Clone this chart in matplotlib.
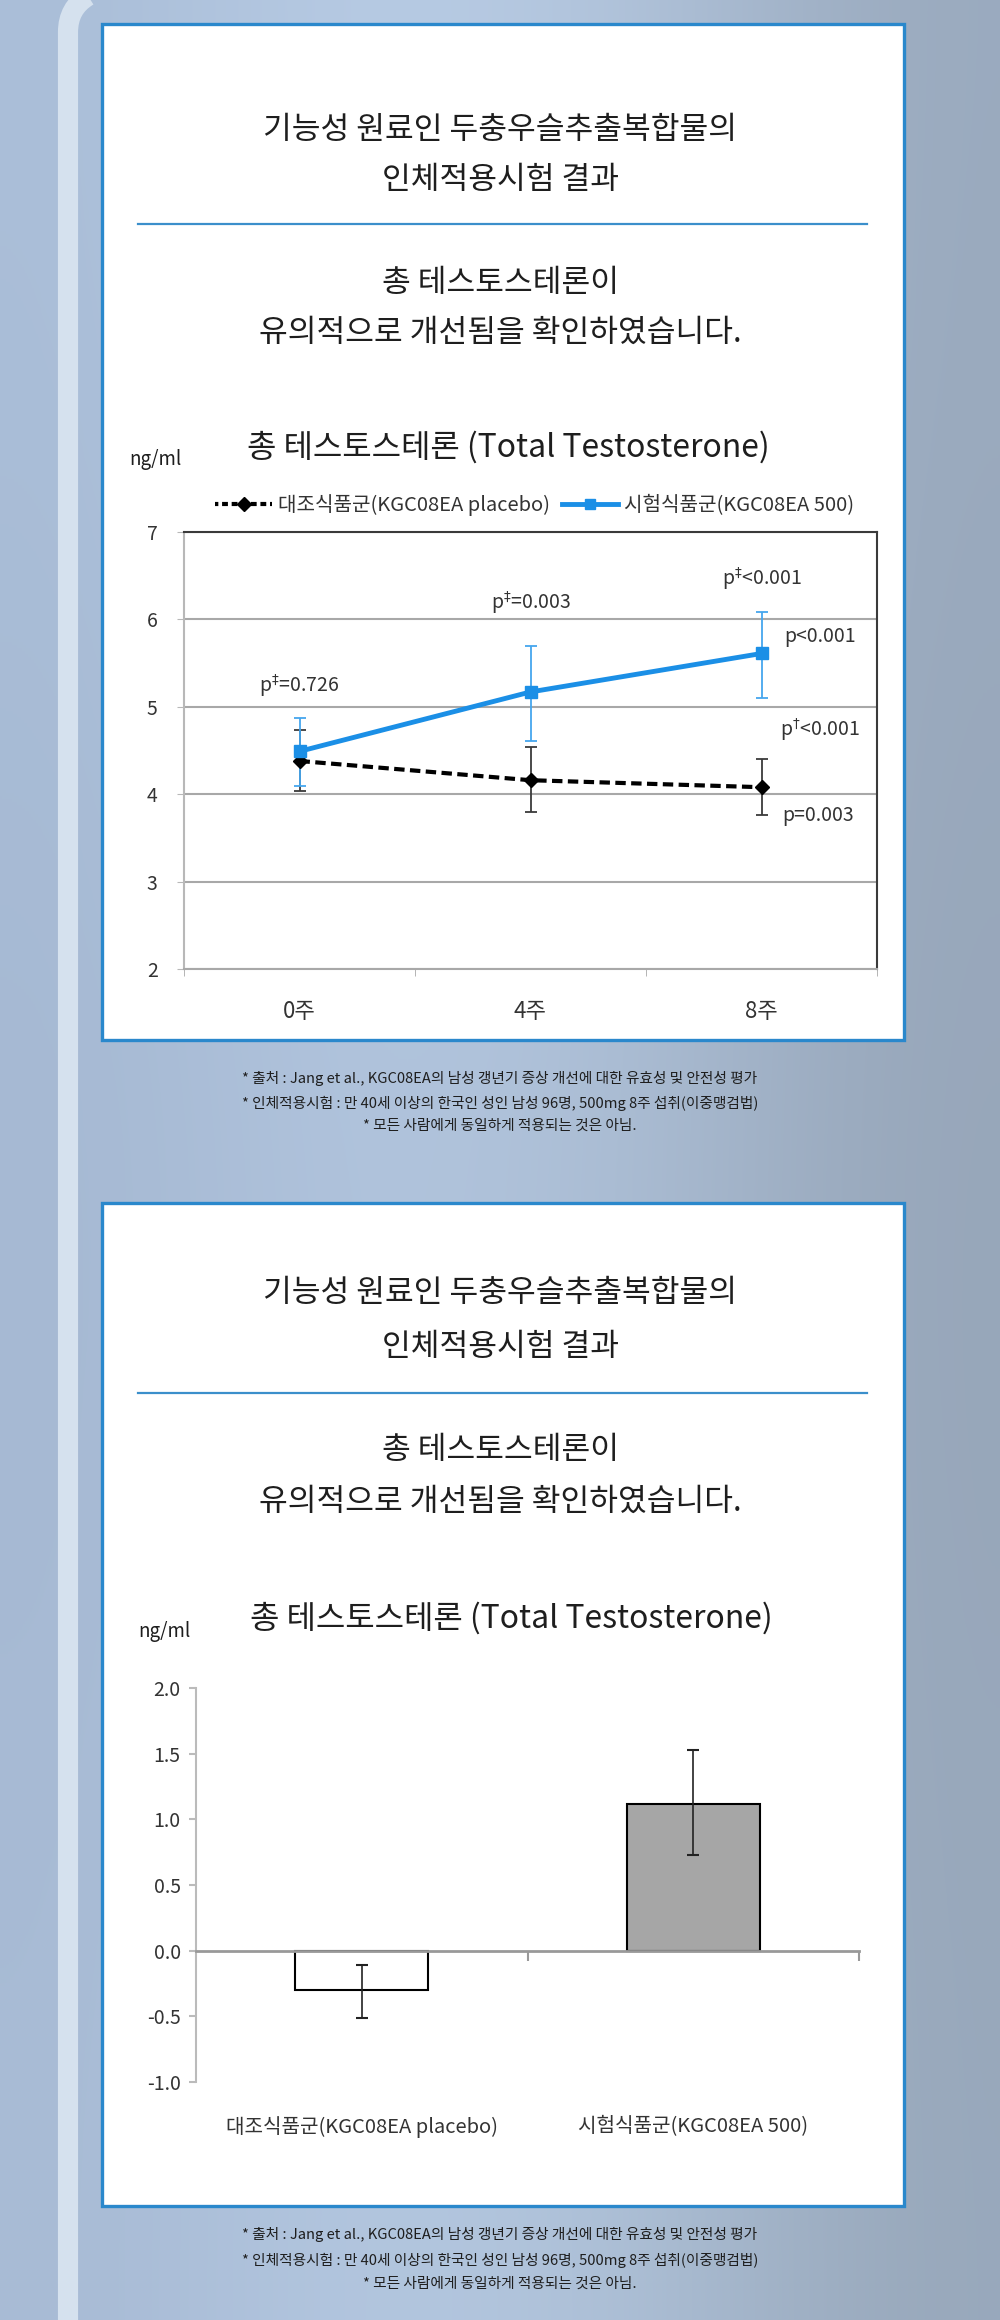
import matplotlib.pyplot as plt
import numpy as np
from matplotlib.patches import Rectangle, PathPatch
from matplotlib.path import Path
from matplotlib.lines import Line2D

plt.rcParams['font.family'] = ['Noto Sans CJK KR', 'DejaVu Sans']
plt.rcParams['axes.unicode_minus'] = False

# line chart: total testosterone by week (ng/ml)
weeks = ['0주', '4주', '8주']
placebo_mean = [4.38, 4.16, 4.08]
placebo_lo = [4.04, 3.80, 3.76]
placebo_hi = [4.73, 4.54, 4.40]
treat_mean = [4.49, 5.17, 5.61]
treat_lo = [4.09, 4.61, 5.10]
treat_hi = [4.87, 5.69, 6.09]

# bar chart: change after 8 weeks (ng/ml)
groups = ['대조식품군(KGC08EA placebo)', '시험식품군(KGC08EA 500)']
change_mean = [-0.30, 1.12]
change_lo = [-0.51, 0.725]
change_hi = [-0.11, 1.53]

title_lines = ['기능성 원료인 두충우슬추출복합물의', '인체적용시험 결과']
sub_lines = ['총 테스토스테론이', '유의적으로 개선됨을 확인하였습니다.']
chart_title = '총 테스토스테론 (Total Testosterone)'
notes = ['* 출처 : Jang et al., KGC08EA의 남성 갱년기 증상 개선에 대한 유효성 및 안전성 평가',
         '* 인체적용시험 : 만 40세 이상의 한국인 성인 남성 96명, 500mg 8주 섭취(이중맹검법)',
         '* 모든 사람에게 동일하게 적용되는 것은 아님.']

W, H = 1000, 2320
TXT = '#1e1e1e'
BLUE_BORDER = '#2a88cc'


def fx(x):
    return x / W


def fy(y):
    return 1 - y / H


fig = plt.figure(figsize=(10, 23.2), dpi=100)

# background
bg = fig.add_axes([0, 0, 1, 1])
bg.set_xlim(0, W)
bg.set_ylim(H, 0)
bg.axis('off')
grad = np.array([
    [[170, 190, 216], [186, 206, 231], [178, 197, 221], [154, 170, 190]],
    [[164, 183, 209], [176, 195, 220], [170, 188, 211], [150, 165, 184]],
    [[168, 187, 213], [181, 201, 226], [174, 193, 216], [152, 168, 187]],
]) / 255.0
bg.imshow(grad, extent=(0, W, H, 0), aspect='auto', interpolation='bicubic', zorder=0)

# light vertical bar on the left, curving at the top
bar_path = Path([(68, H), (68, 32), (68, 8), (88, -4)],
                [Path.MOVETO, Path.LINETO, Path.CURVE3, Path.CURVE3])
bg.add_patch(PathPatch(bar_path, fill=False, edgecolor='#d5e1ee', lw=14.5,
                       capstyle='butt', zorder=1))

# white panels
for top, bottom in [(24, 1040), (1203, 2206)]:
    bg.add_patch(Rectangle((102, top), 802, bottom - top, facecolor='white',
                           edgecolor=BLUE_BORDER, lw=2.4, zorder=2))

# panel headings
for ys in [(130, 180, 224, 283, 333), (1293, 1347, 1393, 1450, 1502)]:
    bg.text(500, ys[0], title_lines[0], ha='center', va='center', fontsize=22.5, color=TXT, zorder=3)
    bg.text(500, ys[1], title_lines[1], ha='center', va='center', fontsize=22.5, color=TXT, zorder=3)
    bg.plot([138, 867], [ys[2], ys[2]], color='#3b8fcb', lw=1.6, zorder=3)
    bg.text(500, ys[3], sub_lines[0], ha='center', va='center', fontsize=22.5, color=TXT, zorder=3)
    bg.text(500, ys[4], sub_lines[1], ha='center', va='center', fontsize=22.5, color=TXT, zorder=3)

# chart titles and units
bg.text(508, 447, chart_title, ha='center', va='center', fontsize=23, color=TXT, zorder=3)
bg.text(155, 459, 'ng/ml', ha='center', va='center', fontsize=13.5, color=TXT, zorder=3)
bg.text(511, 1618, chart_title, ha='center', va='center', fontsize=23, color=TXT, zorder=3)
bg.text(164, 1632, 'ng/ml', ha='center', va='center', fontsize=13.5, color=TXT, zorder=3)

# footnotes
for ys in [(1078, 1103, 1126), (2235, 2260, 2284)]:
    for y, line in zip(ys, notes):
        bg.text(500, y, line, ha='center', va='center', fontsize=10.6, color=TXT, zorder=3)

# ---- line chart ----
ax1 = fig.add_axes([fx(184), fy(969), fx(877 - 184), (969 - 532) / H])
ax1.patch.set_alpha(0)
x = np.arange(len(weeks))
ax1.set_xlim(-0.5, 2.5)
ax1.set_ylim(2, 7)
ax1.set_yticks(range(2, 8))
ax1.yaxis.grid(True, color='#a8a8a8', lw=1.5)
ax1.set_axisbelow(True)
ax1.spines['top'].set_color('#3a3a3a')
ax1.spines['right'].set_color('#3a3a3a')
ax1.spines['left'].set_color('#b8b8b8')
ax1.spines['bottom'].set_color('#a8a8a8')
for s in ax1.spines.values():
    s.set_linewidth(1.5)
ax1.set_xticks(x)
ax1.set_xticklabels(weeks, fontsize=16, color='#333333')
ax1.set_xticks([-0.5, 0.5, 1.5, 2.5], minor=True)
ax1.tick_params(axis='x', which='major', length=0, pad=22)
ax1.tick_params(axis='x', which='minor', length=5, color='#a8a8a8')
ax1.tick_params(axis='y', length=5, color='#b8b8b8', labelsize=14, labelcolor='#333333', pad=14)

pm = np.array(placebo_mean)
tm = np.array(treat_mean)
ax1.errorbar(x, pm, yerr=[pm - np.array(placebo_lo), np.array(placebo_hi) - pm], fmt='none',
             ecolor='#3a3a3a', elinewidth=1.3, capsize=4, capthick=1.3, zorder=3)
ax1.errorbar(x, tm, yerr=[tm - np.array(treat_lo), np.array(treat_hi) - tm], fmt='none',
             ecolor='#45a6ee', elinewidth=1.3, capsize=4, capthick=1.3, zorder=3)
ax1.plot(x, pm, color='black', lw=3, ls=(0, (2.5, 1.3)), marker='D', ms=7, zorder=4)
ax1.plot(x, tm, color='#1b8fe6', lw=3.5, marker='s', ms=8, zorder=5)

pcol = '#333333'
pfs = 14
ax1.text(0, 5.24, r'p$^{\ddag}$=0.726', ha='center', va='center', fontsize=pfs, color=pcol)
ax1.text(1, 6.19, r'p$^{\ddag}$=0.003', ha='center', va='center', fontsize=pfs, color=pcol)
ax1.text(2, 6.47, r'p$^{\ddag}$<0.001', ha='center', va='center', fontsize=pfs, color=pcol)
ax1.text(2.1, 5.80, 'p<0.001', ha='left', va='center', fontsize=pfs, color=pcol)
ax1.text(2.08, 4.74, r'p$^{\dag}$<0.001', ha='left', va='center', fontsize=pfs, color=pcol)
ax1.text(2.09, 3.76, 'p=0.003', ha='left', va='center', fontsize=pfs, color=pcol)

handles = [Line2D([], [], color='black', lw=3, ls=(0.6, (1.4, 0.9)), marker='D', ms=7),
           Line2D([], [], color='#1b8fe6', lw=3.5, marker='s', ms=7)]
leg = fig.legend(handles, groups, loc='center', bbox_to_anchor=(fx(535), fy(505)), ncol=2,
                 frameon=False, fontsize=14.5, handlelength=2.8, columnspacing=0.6,
                 handletextpad=0.3)
for t in leg.get_texts():
    t.set_color('#333333')

# ---- bar chart ----
ax2 = fig.add_axes([fx(196), fy(2082), fx(859 - 196), (2082 - 1688) / H])
ax2.patch.set_alpha(0)
xb = np.arange(len(groups))
ax2.set_xlim(-0.5, 1.5)
ax2.set_ylim(-1, 2)
ax2.set_yticks(np.arange(-1, 2.01, 0.5))
ax2.set_yticklabels(['%.1f' % v for v in np.arange(-1, 2.01, 0.5)])
ax2.spines['top'].set_visible(False)
ax2.spines['right'].set_visible(False)
ax2.spines['bottom'].set_position(('data', 0))
ax2.spines['bottom'].set_color('#999999')
ax2.spines['bottom'].set_linewidth(2)
ax2.spines['left'].set_color('#bbbbbb')
ax2.spines['left'].set_linewidth(1.5)
ax2.set_xticks([0.5, 1.5])
ax2.set_xticklabels(['', ''])
ax2.tick_params(axis='x', length=7, width=1.5, color='#999999')
ax2.tick_params(axis='y', length=5, width=1.5, color='#bbbbbb', labelsize=14,
                labelcolor='#333333', pad=6)

cm = np.array(change_mean)
ax2.bar(xb, cm, width=0.4, color=['white', '#a6a6a6'], edgecolor='black', lw=1.5, zorder=2)
ax2.errorbar(xb, cm, yerr=[cm - np.array(change_lo), np.array(change_hi) - cm], fmt='none',
             ecolor='#222222', elinewidth=1.2, capsize=4, capthick=1.5, zorder=3)
for i, g in enumerate(groups):
    ax2.text(i, -1.34, g, ha='center', va='center', fontsize=14.5, color='#333333')

fig.savefig('out.png', dpi=100)
